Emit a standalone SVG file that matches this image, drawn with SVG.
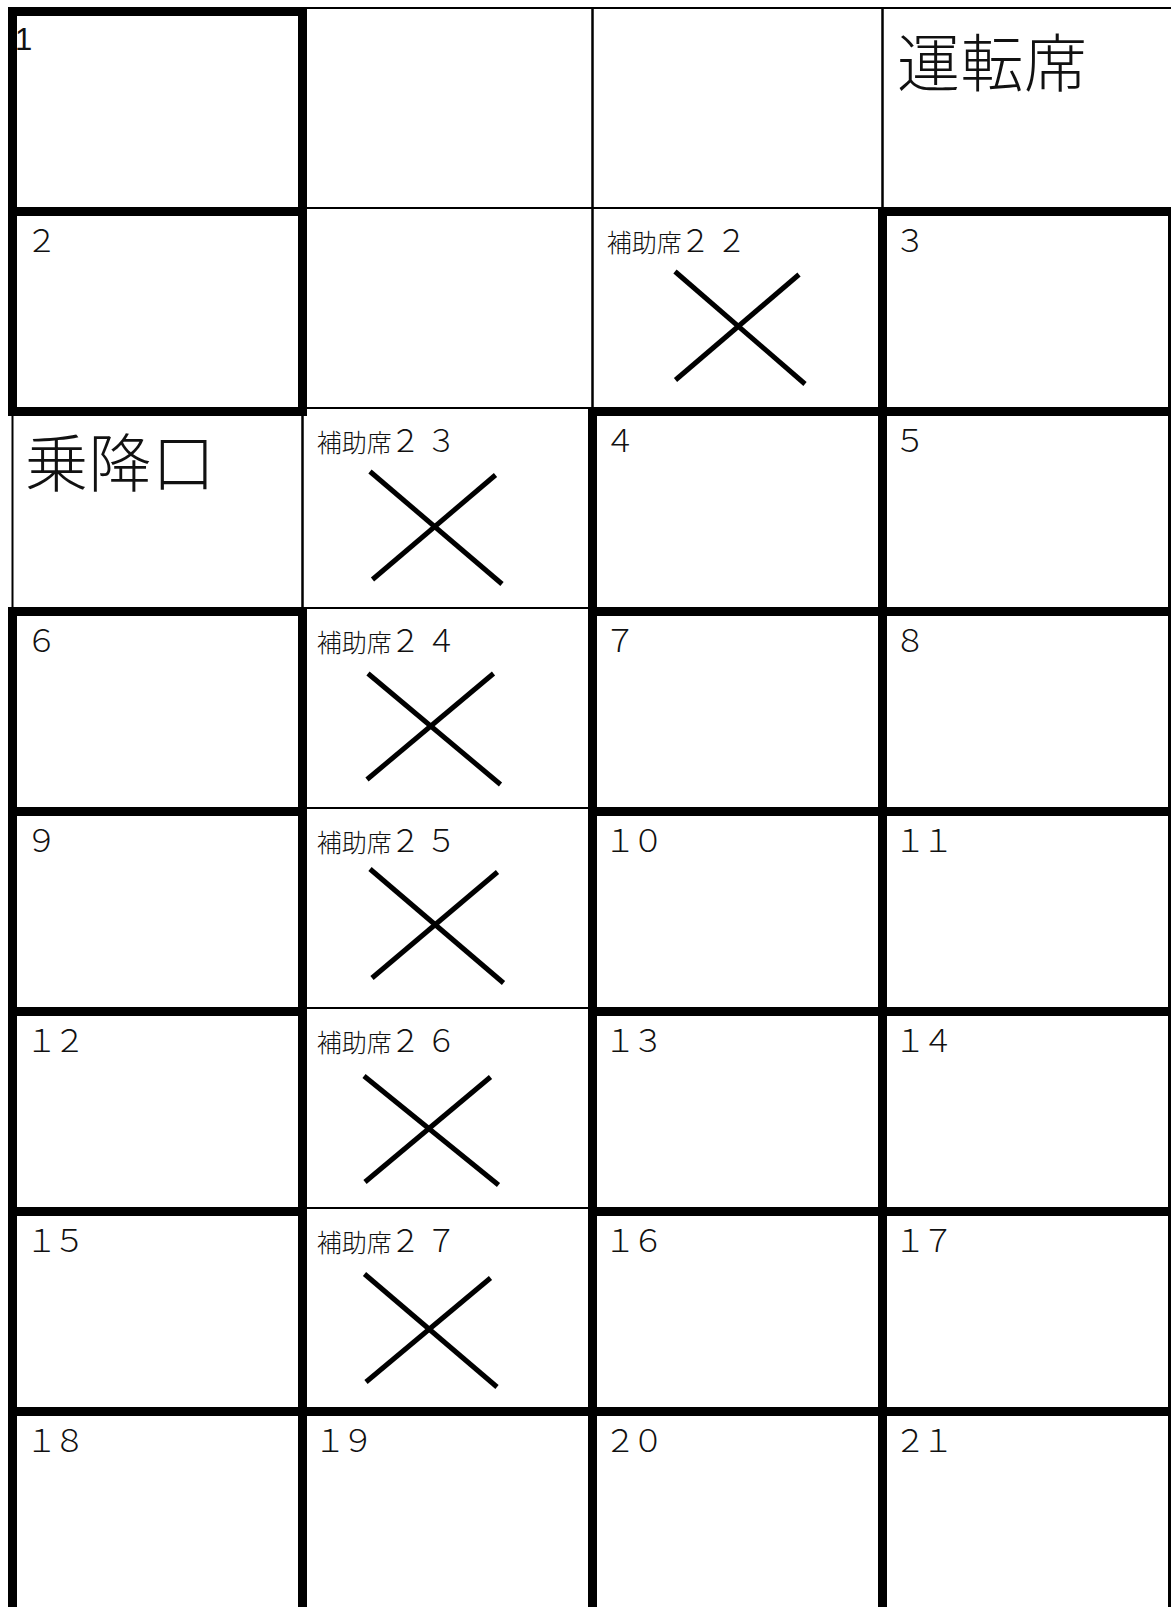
<svg xmlns="http://www.w3.org/2000/svg" width="1171" height="1607" viewBox="0 0 1171 1607">
<style>
.thin{fill:none;stroke:#000;stroke-width:2}
.thick{fill:none;stroke:#000;stroke-width:9}
.x{stroke:#000;stroke-width:5;fill:none}
text{font-family:"Noto Sans CJK JP","Noto Sans CJK SC",sans-serif;fill:#111;font-weight:300}
.num{font-size:32px;letter-spacing:-4px}
.one{font-family:"Liberation Sans",sans-serif;font-size:31px;font-weight:400}
.lbl{font-size:25px}
.d{font-size:31px}
.big{font-size:63px;letter-spacing:0.5px}
</style>
<rect width="1171" height="1607" fill="#fff"/>
<g id="thin-cells">
<g id="cell-r0c1"><rect class="thin" x="302.5" y="8" width="290" height="200"/></g>
<g id="cell-r0c2"><rect class="thin" x="592.5" y="8" width="290" height="200"/></g>
<g id="driver"><rect class="thin" x="882.5" y="8" width="290" height="200"/><text class="big" x="897" y="86">運転席</text></g>
<g id="cell-r1c1"><rect class="thin" x="302.5" y="208" width="290" height="200"/></g>
<g id="aux22"><rect class="thin" x="592.5" y="208" width="290" height="200"/><text class="lbl" x="606.8" y="251.5">補助席<tspan class="d" dx="-2 5">２２</tspan></text><line class="x" x1="675" y1="271.5" x2="805" y2="384"/><line class="x" x1="799" y1="274.5" x2="675.5" y2="380"/></g>
<g id="entrance"><rect class="thin" x="12.5" y="408" width="290" height="200"/><text class="big" x="25" y="486">乗降口</text></g>
<g id="aux23"><rect class="thin" x="302.5" y="408" width="290" height="200"/><text class="lbl" x="316.8" y="451.5">補助席<tspan class="d" dx="-2 5">２３</tspan></text><line class="x" x1="370" y1="471.5" x2="502" y2="584"/><line class="x" x1="495.5" y1="475" x2="372.5" y2="579.5"/></g>
<g id="aux24"><rect class="thin" x="302.5" y="608" width="290" height="200"/><text class="lbl" x="316.8" y="651.5">補助席<tspan class="d" dx="-2 5">２４</tspan></text><line class="x" x1="368" y1="673.5" x2="500.5" y2="784.5"/><line class="x" x1="493.5" y1="673.5" x2="367" y2="779.5"/></g>
<g id="aux25"><rect class="thin" x="302.5" y="808" width="290" height="200"/><text class="lbl" x="316.8" y="851.5">補助席<tspan class="d" dx="-2 5">２５</tspan></text><line class="x" x1="370" y1="869" x2="503.5" y2="983"/><line class="x" x1="497.5" y1="872" x2="372" y2="978"/></g>
<g id="aux26"><rect class="thin" x="302.5" y="1008" width="290" height="200"/><text class="lbl" x="316.8" y="1051.5">補助席<tspan class="d" dx="-2 5">２６</tspan></text><line class="x" x1="364" y1="1076" x2="498.5" y2="1185"/><line class="x" x1="490.5" y1="1077" x2="365" y2="1182"/></g>
<g id="aux27"><rect class="thin" x="302.5" y="1208" width="290" height="200"/><text class="lbl" x="316.8" y="1251.5">補助席<tspan class="d" dx="-2 5">２７</tspan></text><line class="x" x1="364.5" y1="1274" x2="497" y2="1387"/><line class="x" x1="490.5" y1="1278" x2="366" y2="1382"/></g>
</g>
<g id="seats">
<g id="seat1"><rect class="thick" x="12.5" y="11.5" width="290" height="200"/><text class="one" x="15" y="50">1</text></g>
<g id="seat2"><rect class="thick" x="12.5" y="211.5" width="290" height="200"/><text class="num" x="25.5" y="252">２</text></g>
<g id="seat3"><rect class="thick" x="882.5" y="211.5" width="290" height="200"/><text class="num" x="894" y="252">３</text></g>
<g id="seat4"><rect class="thick" x="592.5" y="411.5" width="290" height="200"/><text class="num" x="604" y="452">４</text></g>
<g id="seat5"><rect class="thick" x="882.5" y="411.5" width="290" height="200"/><text class="num" x="894" y="452">５</text></g>
<g id="seat6"><rect class="thick" x="12.5" y="611.5" width="290" height="200"/><text class="num" x="25.5" y="652">６</text></g>
<g id="seat7"><rect class="thick" x="592.5" y="611.5" width="290" height="200"/><text class="num" x="604" y="652">７</text></g>
<g id="seat8"><rect class="thick" x="882.5" y="611.5" width="290" height="200"/><text class="num" x="894" y="652">８</text></g>
<g id="seat9"><rect class="thick" x="12.5" y="811.5" width="290" height="200"/><text class="num" x="25.5" y="852">９</text></g>
<g id="seat10"><rect class="thick" x="592.5" y="811.5" width="290" height="200"/><text class="num" x="604" y="852">１０</text></g>
<g id="seat11"><rect class="thick" x="882.5" y="811.5" width="290" height="200"/><text class="num" x="894" y="852">１１</text></g>
<g id="seat12"><rect class="thick" x="12.5" y="1011.5" width="290" height="200"/><text class="num" x="25.5" y="1052">１２</text></g>
<g id="seat13"><rect class="thick" x="592.5" y="1011.5" width="290" height="200"/><text class="num" x="604" y="1052">１３</text></g>
<g id="seat14"><rect class="thick" x="882.5" y="1011.5" width="290" height="200"/><text class="num" x="894" y="1052">１４</text></g>
<g id="seat15"><rect class="thick" x="12.5" y="1211.5" width="290" height="200"/><text class="num" x="25.5" y="1252">１５</text></g>
<g id="seat16"><rect class="thick" x="592.5" y="1211.5" width="290" height="200"/><text class="num" x="604" y="1252">１６</text></g>
<g id="seat17"><rect class="thick" x="882.5" y="1211.5" width="290" height="200"/><text class="num" x="894" y="1252">１７</text></g>
<g id="seat18"><rect class="thick" x="12.5" y="1411.5" width="290" height="200"/><text class="num" x="25.5" y="1452">１８</text></g>
<g id="seat19"><rect class="thick" x="302.5" y="1411.5" width="290" height="200"/><text class="num" x="314" y="1452">１９</text></g>
<g id="seat20"><rect class="thick" x="592.5" y="1411.5" width="290" height="200"/><text class="num" x="604" y="1452">２０</text></g>
<g id="seat21"><rect class="thick" x="882.5" y="1411.5" width="290" height="200"/><text class="num" x="894" y="1452">２１</text></g>
</g>
<g id="connectors"/>
</svg>
